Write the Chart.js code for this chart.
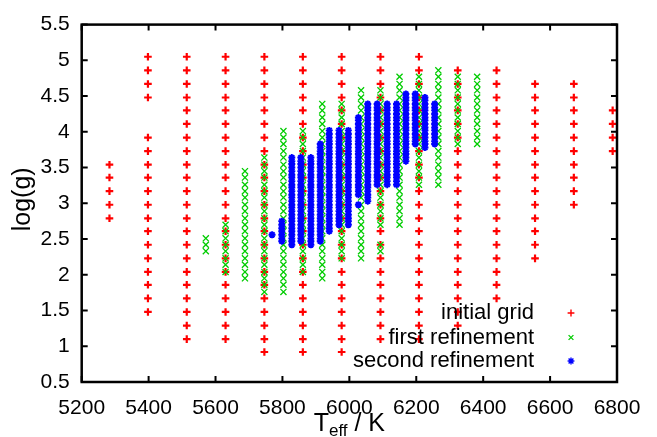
<!DOCTYPE html>
<html><head><meta charset="utf-8">
<script src="https://cdn.jsdelivr.net/npm/chart.js@4/dist/chart.umd.min.js"></script>
<style>html,body{margin:0;padding:0;background:#fff;}#wrap{width:657px;height:437px;}</style>
</head><body><div id="wrap"><canvas id="c" width="657" height="437"></canvas></div>
<script>
// ---------- data ----------
const xTickValues = [5200,5400,5600,5800,6000,6200,6400,6600,6800];
const yTickValues = [0.5,1,1.5,2,2.5,3,3.5,4,4.5,5,5.5];
const seriesNames = ['initial grid','first refinement','second refinement'];
const xTitleMain = 'T', xTitleSub = 'eff', xTitleRest = ' / K';
const yTitle = 'log(g)';

// initial grid (Teff columns, log g values in each column)
const initialT = [5283,5398,5514,5630,5746,5861,5977,6093,6208,6324,6440,6555,6671,6787];
const initialLogg = [
 [3.54,3.36,3.17,2.98,2.79],
 [5.05,4.86,4.67,4.48,3.92,3.73,3.54,3.36,3.17,2.98,2.79,2.61,2.42,2.23,2.04,1.86,1.67,1.48],
 [5.05,4.86,4.67,4.48,4.30,4.11,3.92,3.73,3.54,3.36,3.17,2.98,2.79,2.61,2.42,2.23,2.04,1.86,1.67,1.48,1.29,1.10],
 [5.05,4.86,4.67,4.48,4.30,4.11,3.92,3.73,3.54,3.36,3.17,2.98,2.79,2.61,2.42,2.23,2.04,1.86,1.67,1.48,1.29,1.10],
 [5.05,4.86,4.67,4.48,4.30,4.11,3.92,3.73,3.54,3.36,3.17,2.98,2.79,2.61,2.42,2.23,2.04,1.86,1.67,1.48,1.29,1.10,0.92],
 [5.05,4.86,4.67,4.48,4.30,4.11,3.92,3.73,3.54,3.36,3.17,2.98,2.79,2.61,2.42,2.23,2.04,1.86,1.67,1.48,1.29,1.10,0.92],
 [5.05,4.86,4.67,4.48,4.30,4.11,3.92,3.73,3.54,3.36,3.17,2.98,2.79,2.61,2.42,2.23,2.04,1.86,1.67,1.48,1.29,1.10,0.92],
 [5.05,4.86,4.67,4.48,4.30,4.11,3.92,3.73,3.54,3.36,3.17,2.98,2.79,2.61,2.42,2.23,2.04,1.86,1.67,1.48,1.29,1.10],
 [5.05,4.86,4.67,4.48,4.30,4.11,3.92,3.73,3.54,3.36,3.17,2.98,2.79,2.61,2.42,2.23,2.04,1.86,1.67,1.48,1.29,1.10],
 [4.86,4.67,4.48,4.30,4.11,3.92,3.73,3.54,3.36,3.17,2.98,2.79,2.61,2.42,2.23,2.04,1.86,1.67,1.48,1.29],
 [4.86,4.67,4.48,4.30,4.11,3.92,3.73,3.54,3.36,3.17,2.98,2.79,2.61,2.42,2.23,2.04,1.86,1.67],
 [4.67,4.48,4.30,4.11,3.92,3.73,3.54,3.36,3.17,2.98,2.79,2.61,2.42,2.23],
 [4.67,4.48,4.30,4.11,3.92,3.73,3.54,3.36,3.17,2.98],
 [4.30,4.11,3.92,3.73]
];

// first refinement
const firstT = [5571,5630,5688,5746,5803,5861,5919,5977,6035,6093,6150,6208,6266,6324,6382];
const firstLogg = [
 [2.33,2.42,2.51],
 [2.04,2.14,2.23,2.33,2.42,2.51,2.61,2.70],
 [1.95,2.04,2.14,2.23,2.33,2.42,2.51,2.61,2.70,2.79,2.89,2.98,3.08,3.17,3.26,3.36,3.45],
 [1.76,1.86,1.95,2.04,2.14,2.23,2.33,2.42,2.51,2.61,2.70,2.79,2.89,2.98,3.08,3.17,3.26,3.36,3.45,3.54,3.64],
 [1.76,1.86,1.95,2.04,2.14,2.23,2.33,2.42,2.51,2.61,2.70,2.79,2.89,2.98,3.08,3.17,3.26,3.36,3.45,3.54,3.64,3.73,3.83,3.92,4.01],
 [2.04,2.14,2.23,2.33,2.42,2.51,2.61,2.70,2.79,2.89,2.98,3.08,3.17,3.26,3.36,3.45,3.54,3.64,3.73,3.83,3.92,4.01],
 [1.95,2.04,2.14,2.23,2.33,2.42,2.51,2.61,2.70,2.79,2.89,2.98,3.08,3.17,3.26,3.36,3.45,3.54,3.64,3.73,3.83,3.92,4.01,4.11,4.20,4.30,4.39],
 [2.23,2.33,2.42,2.51,2.61,2.70,2.79,2.89,2.98,3.08,3.17,3.26,3.36,3.45,3.54,3.64,3.73,3.83,3.92,4.01,4.11,4.20,4.30,4.39],
 [2.23,2.33,2.42,2.51,2.61,2.70,2.79,2.89,2.98,3.08,3.17,3.26,3.36,3.45,3.54,3.64,3.73,3.83,3.92,4.01,4.11,4.20,4.30,4.39,4.48,4.58],
 [2.33,2.42,2.70,2.79,2.89,2.98,3.08,3.17,3.26,3.36,3.45,3.54,3.64,3.73,3.83,3.92,4.01,4.11,4.20,4.30,4.39,4.48,4.58],
 [2.70,2.79,2.89,2.98,3.08,3.17,3.26,3.36,3.45,3.54,3.64,3.73,3.83,3.92,4.01,4.11,4.20,4.30,4.39,4.48,4.58,4.67,4.77],
 [3.26,3.36,3.45,3.54,3.64,3.73,3.83,3.92,4.01,4.11,4.20,4.30,4.39,4.48,4.58,4.67,4.77],
 [3.26,3.36,3.45,3.54,3.64,3.73,3.83,3.92,4.01,4.11,4.20,4.30,4.39,4.48,4.58,4.67,4.77,4.86],
 [3.83,3.92,4.01,4.11,4.20,4.30,4.39,4.48,4.58,4.67,4.77],
 [3.83,3.92,4.01,4.11,4.20,4.30,4.39,4.48,4.58,4.67,4.77]
];

// second refinement
const secondT = [5769,5798,5828,5855,5885,5913,5940,5969,5997,6027,6055,6083,6113,6141,6169,6197,6226,6255];
const secondLogg = [
 [2.56],
 [2.47,2.51,2.56,2.61,2.65,2.70,2.75],
 [2.42,2.47,2.51,2.56,2.61,2.65,2.70,2.75,2.79,2.84,2.89,2.94,2.98,3.03,3.08,3.12,3.17,3.22,3.26,3.31,3.36,3.40,3.45,3.50,3.55,3.59,3.64],
 [2.47,2.51,2.56,2.61,2.65,2.70,2.75,2.79,2.84,2.89,2.94,2.98,3.03,3.08,3.12,3.17,3.22,3.26,3.31,3.36,3.40,3.45,3.50,3.55,3.59,3.64],
 [2.42,2.47,2.51,2.56,2.61,2.65,2.70,2.75,2.79,2.84,2.89,2.94,2.98,3.03,3.08,3.12,3.17,3.22,3.26,3.31,3.36,3.40,3.45,3.50,3.55,3.59,3.64],
 [2.47,2.51,2.56,2.61,2.65,2.70,2.75,2.79,2.84,2.89,2.94,2.98,3.03,3.08,3.12,3.17,3.22,3.26,3.31,3.36,3.40,3.45,3.50,3.55,3.59,3.64,3.69,3.73,3.78,3.83],
 [2.61,2.65,2.70,2.75,2.79,2.84,2.89,2.94,2.98,3.03,3.08,3.12,3.17,3.22,3.26,3.31,3.36,3.40,3.45,3.50,3.55,3.59,3.64,3.69,3.73,3.78,3.83,3.87,3.92,3.97,4.02],
 [2.70,2.75,2.79,2.84,2.89,2.94,2.98,3.03,3.08,3.12,3.17,3.22,3.26,3.31,3.36,3.40,3.45,3.50,3.55,3.59,3.64,3.69,3.73,3.78,3.83,3.87,3.92,3.97,4.02],
 [2.70,2.75,2.79,2.84,2.89,2.94,2.98,3.03,3.08,3.12,3.17,3.22,3.26,3.31,3.36,3.40,3.45,3.50,3.55,3.59,3.64,3.69,3.73,3.78,3.83,3.87,3.92,3.97,4.02],
 [2.98,3.12,3.17,3.22,3.26,3.31,3.36,3.40,3.45,3.50,3.55,3.59,3.64,3.69,3.73,3.78,3.83,3.87,3.92,3.97,4.02,4.06,4.11,4.16,4.20],
 [3.03,3.08,3.12,3.17,3.22,3.26,3.31,3.36,3.40,3.45,3.50,3.55,3.59,3.64,3.69,3.73,3.78,3.83,3.87,3.92,3.97,4.02,4.06,4.11,4.16,4.20,4.25,4.30,4.34,4.39],
 [3.26,3.31,3.36,3.40,3.45,3.50,3.55,3.59,3.64,3.69,3.73,3.78,3.83,3.87,3.92,3.97,4.02,4.06,4.11,4.16,4.20,4.25,4.30,4.34,4.39],
 [3.26,3.31,3.36,3.40,3.45,3.50,3.55,3.59,3.64,3.69,3.73,3.78,3.83,3.87,3.92,3.97,4.02,4.06,4.11,4.16,4.20,4.25,4.30,4.34,4.39],
 [3.26,3.31,3.36,3.40,3.45,3.50,3.55,3.59,3.64,3.69,3.73,3.78,3.83,3.87,3.92,3.97,4.02,4.06,4.11,4.16,4.20,4.25,4.30,4.34,4.39],
 [3.59,3.64,3.69,3.73,3.78,3.83,3.87,3.92,3.97,4.02,4.06,4.11,4.16,4.20,4.25,4.30,4.34,4.39,4.44,4.48,4.53],
 [3.83,3.87,3.92,3.97,4.02,4.06,4.11,4.16,4.20,4.25,4.30,4.34,4.39,4.44,4.48,4.53],
 [3.78,3.83,3.87,3.92,3.97,4.02,4.06,4.11,4.16,4.20,4.25,4.30,4.34,4.39,4.44,4.48],
 [3.83,3.87,3.92,3.97,4.02,4.06,4.11,4.16,4.20,4.25,4.30,4.34,4.39]
];

// ---------- chart ----------
const FONT = '"Liberation Sans", Arial, Helvetica, sans-serif';
const RED = '#ff0000', GREEN = '#00cc00', BLUE = '#0000ff';

function toPoints(ts, ls) {
  const pts = [];
  ts.forEach((t, i) => ls[i].forEach(g => pts.push({x: t, y: g})));
  return pts;
}

const styles = [
  {pointStyle: 'cross', radius: 3.8, borderWidth: 2.2, color: RED},
  {pointStyle: 'crossRot', radius: 4.3, borderWidth: 1.3, color: GREEN},
  {pointStyle: 'star', radius: 3.5, borderWidth: 1.9, color: BLUE}
];

const decorPlugin = {
  id: 'decor',
  afterDatasetsDraw(chart) {
    const ctx = chart.ctx;
    const {left, right, top, bottom} = chart.chartArea;
    const xs = chart.scales.x, ys = chart.scales.y;
    ctx.save();
    ctx.strokeStyle = '#000';
    ctx.lineWidth = 2;
    ctx.beginPath();
    xs.ticks.forEach(t => {
      const p = xs.getPixelForValue(t.value);
      ctx.moveTo(p, bottom); ctx.lineTo(p, bottom - 6);
      ctx.moveTo(p, top); ctx.lineTo(p, top + 6);
    });
    ys.ticks.forEach(t => {
      const p = ys.getPixelForValue(t.value);
      ctx.moveTo(left, p); ctx.lineTo(left + 6, p);
      ctx.moveTo(right, p); ctx.lineTo(right - 6, p);
    });
    ctx.stroke();
    ctx.lineWidth = 2.5;
    ctx.strokeRect(left, top, right - left, bottom - top);

    // legend (inside, bottom right)
    ctx.font = '22px ' + FONT;
    ctx.fillStyle = '#000';
    ctx.textAlign = 'right';
    ctx.textBaseline = 'middle';
    const textRight = right - 83;
    const symX = right - 46;
    const rowY = [bottom - 69, bottom - 44.5, bottom - 21];
    seriesNames.forEach((name, i) => {
      ctx.fillText(name, textRight, rowY[i]);
      const s = styles[i];
      ctx.strokeStyle = s.color; ctx.fillStyle = s.color;
      ctx.lineWidth = Math.min(s.borderWidth, 1.4);
      Chart.helpers.drawPoint(ctx, {pointStyle: s.pointStyle, radius: Math.min(s.radius, 3.4), borderWidth: s.borderWidth, rotation: 0}, symX, rowY[i]);
      ctx.fillStyle = '#000';
    });

    // axis titles
    ctx.fillStyle = '#000';
    ctx.textBaseline = 'alphabetic';
    ctx.textAlign = 'left';
    const big = '25px ' + FONT, small = '17px ' + FONT;
    ctx.font = big; const w1 = ctx.measureText(xTitleMain).width;
    const w3 = ctx.measureText(xTitleRest).width;
    ctx.font = small; const w2 = ctx.measureText(xTitleSub).width;
    const cx = (left + right) / 2;
    let x0 = cx - (w1 + w2 + w3) / 2;
    const base = 431;
    ctx.font = big; ctx.fillText(xTitleMain, x0, base);
    ctx.font = small; ctx.fillText(xTitleSub, x0 + w1, base + 5);
    ctx.font = big; ctx.fillText(xTitleRest, x0 + w1 + w2, base);

    ctx.translate(23, (top + bottom) / 2 - 4);
    ctx.rotate(-Math.PI / 2);
    ctx.textAlign = 'center';
    ctx.textBaseline = 'middle';
    ctx.font = big;
    ctx.fillText(yTitle, 0, 0);
    ctx.restore();
  }
};

const datasets = [
  {label: seriesNames[2], data: toPoints(secondT, secondLogg), s: styles[2], order: 1},
  {label: seriesNames[1], data: toPoints(firstT, firstLogg), s: styles[1], order: 2},
  {label: seriesNames[0], data: toPoints(initialT, initialLogg), s: styles[0], order: 3}
].map(d => ({
  label: d.label, data: d.data, order: d.order,
  pointStyle: d.s.pointStyle, pointRadius: d.s.radius, pointBorderWidth: d.s.borderWidth,
  pointBorderColor: d.s.color, pointBackgroundColor: d.s.color,
  showLine: false, clip: false
}));

new Chart(document.getElementById('c'), {
  type: 'scatter',
  data: {datasets},
  options: {
    responsive: false, animation: false, events: [],
    layout: {padding: {left: 0, right: 40, top: 19.5, bottom: 0}},
    plugins: {legend: {display: false}, tooltip: {enabled: false}, title: {display: false}},
    scales: {
      x: {
        type: 'linear', min: 5200, max: 6800, position: 'bottom',
        afterBuildTicks: s => { s.ticks = xTickValues.map(v => ({value: v})); },
        afterFit: s => { s.height = 55; },
        grid: {display: false, drawTicks: false}, border: {display: false},
        ticks: {font: {family: FONT, size: 21}, color: '#000', padding: 14, maxRotation: 0, autoSkip: false,
                callback: v => String(v)}
      },
      y: {
        type: 'linear', min: 0.5, max: 5.5, position: 'left',
        afterBuildTicks: s => { s.ticks = yTickValues.map(v => ({value: v})); },
        afterFit: s => { s.width = 81.7; },
        grid: {display: false, drawTicks: false}, border: {display: false},
        ticks: {font: {family: FONT, size: 21}, color: '#000', padding: 12, autoSkip: false,
                callback: v => String(v)}
      }
    }
  },
  plugins: [decorPlugin]
});
</script></body></html>
